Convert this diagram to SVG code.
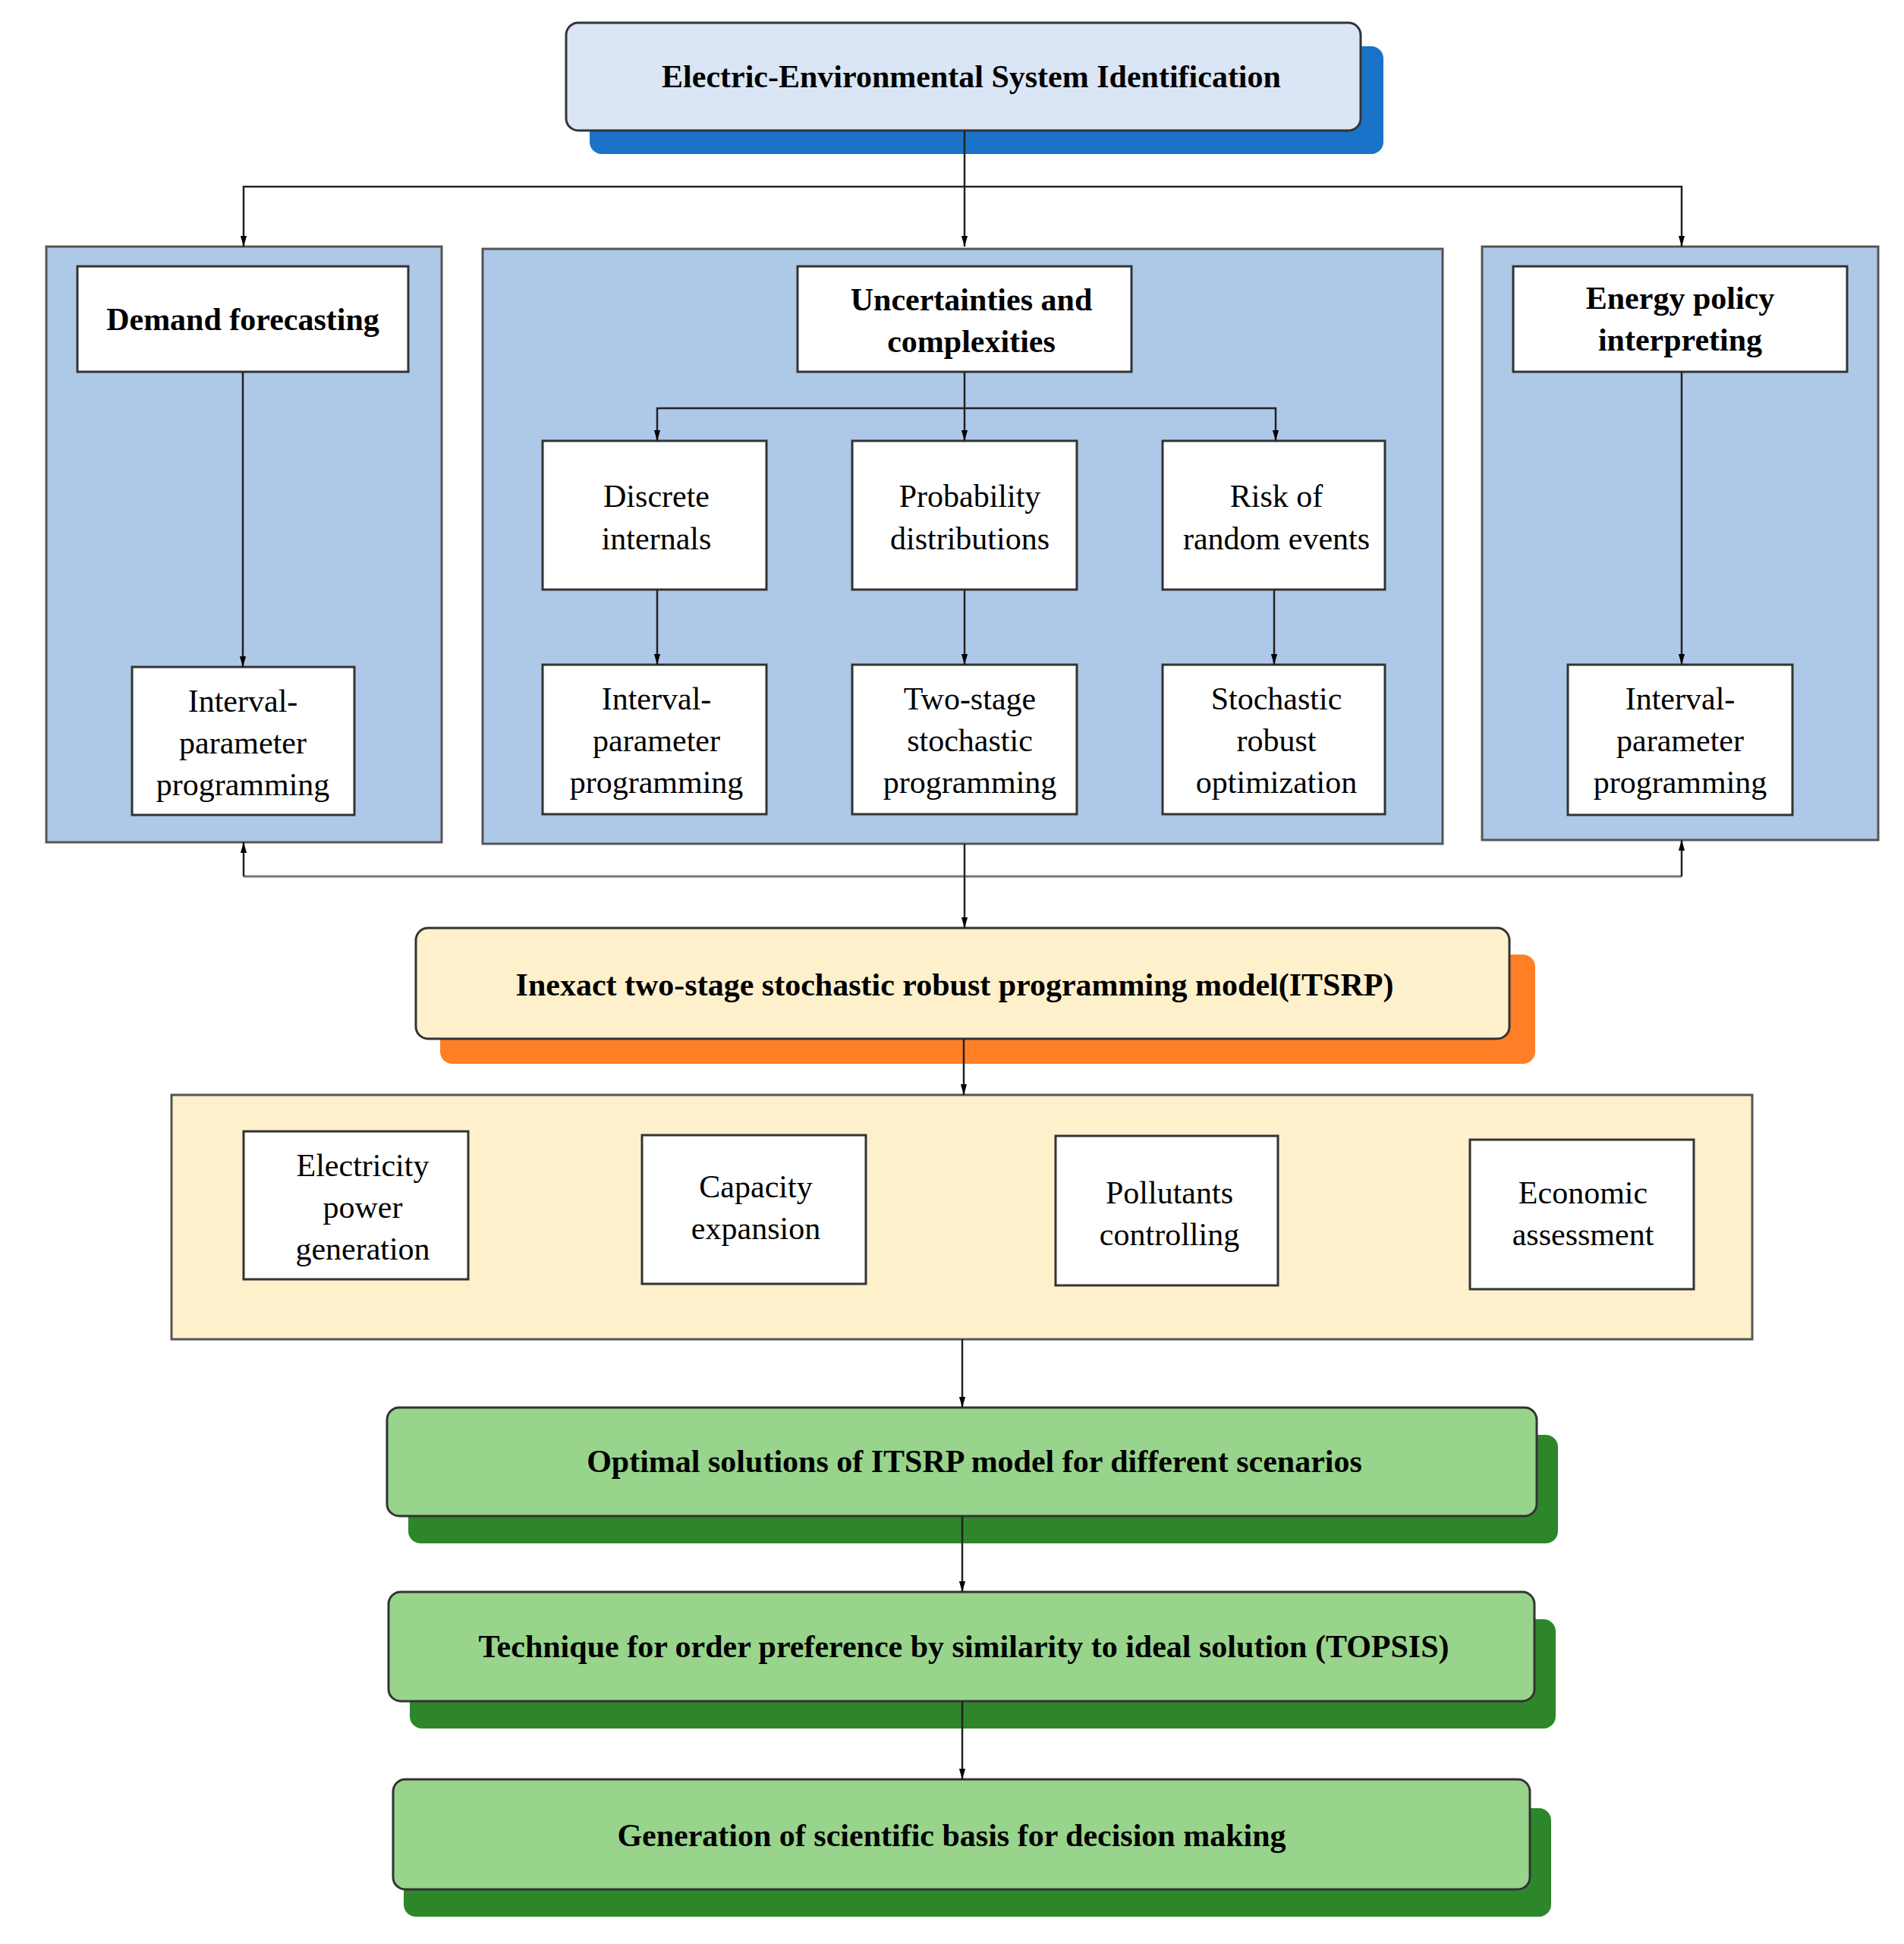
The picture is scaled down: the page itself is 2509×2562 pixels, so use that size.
<svg xmlns="http://www.w3.org/2000/svg" width="2509" height="2562" viewBox="0 0 2509 2562">
<style>
.b{font-family:"Liberation Serif",serif;font-weight:bold;font-size:42px;fill:#000;text-anchor:middle}
.r{font-family:"Liberation Serif",serif;font-size:42px;fill:#000;text-anchor:middle}
.w{fill:#fff;stroke:#333;stroke-width:3}
.p{fill:#aec8e8;stroke:#555;stroke-width:3}
.l{fill:none;stroke:#222;stroke-width:2.5}
.lg{fill:none;stroke:#777;stroke-width:3}
</style>
<defs><marker id="a" markerWidth="12" markerHeight="14" refX="6" refY="13" orient="auto-start-reverse" markerUnits="userSpaceOnUse" viewBox="0 0 12 14"><path d="M0,0 L12,0 L6,14 Z" transform="rotate(0)" fill="#000"/></marker>
<marker id="d" viewBox="0 0 14 24" refX="24" refY="7" markerWidth="24" markerHeight="14" orient="auto" markerUnits="userSpaceOnUse"><path d="M0,0 L24,7 L0,14Z" fill="#000"/></marker></defs>
<g id="top"><rect x="777" y="61" width="1046" height="142" rx="16" fill="#1a73c8"/><rect x="746" y="30" width="1047" height="142" rx="16" fill="#dae6f5" stroke="#333" stroke-width="3"/><text class="b" x="1280" y="115">Electric-Environmental System Identification</text></g>
<g id="panelL"><rect class="p" x="61" y="325" width="521" height="785"/></g>
<g id="panelC"><rect class="p" x="636" y="328" width="1265" height="784"/></g>
<g id="panelR"><rect class="p" x="1953" y="325" width="522" height="782"/></g>
<g id="demand"><rect class="w" x="102" y="351" width="436" height="139"/><text class="b" x="320" y="435">Demand forecasting</text></g>
<g id="unc"><rect class="w" x="1051" y="351" width="440" height="139"/><text class="b" x="1280" y="409">Uncertainties and</text><text class="b" x="1280" y="464">complexities</text></g>
<g id="energy"><rect class="w" x="1994" y="351" width="440" height="139"/><text class="b" x="2214" y="407">Energy policy</text><text class="b" x="2214" y="462">interpreting</text></g>
<g id="ipL"><rect class="w" x="174" y="879" width="293" height="195"/><text class="r" x="320" y="938">Interval-</text><text class="r" x="320" y="993">parameter</text><text class="r" x="320" y="1048">programming</text></g>
<g id="disc"><rect class="w" x="715" y="581" width="295" height="196"/><text class="r" x="865" y="668">Discrete</text><text class="r" x="865" y="724">internals</text></g>
<g id="prob"><rect class="w" x="1123" y="581" width="296" height="196"/><text class="r" x="1278" y="668">Probability</text><text class="r" x="1278" y="724">distributions</text></g>
<g id="risk"><rect class="w" x="1532" y="581" width="293" height="196"/><text class="r" x="1682" y="668">Risk of</text><text class="r" x="1682" y="724">random events</text></g>
<g id="ipC"><rect class="w" x="715" y="876" width="295" height="197"/><text class="r" x="865" y="935">Interval-</text><text class="r" x="865" y="990">parameter</text><text class="r" x="865" y="1045">programming</text></g>
<g id="tss"><rect class="w" x="1123" y="876" width="296" height="197"/><text class="r" x="1278" y="935">Two-stage</text><text class="r" x="1278" y="990">stochastic</text><text class="r" x="1278" y="1045">programming</text></g>
<g id="sro"><rect class="w" x="1532" y="876" width="293" height="197"/><text class="r" x="1682" y="935">Stochastic</text><text class="r" x="1682" y="990">robust</text><text class="r" x="1682" y="1045">optimization</text></g>
<g id="ipR"><rect class="w" x="2066" y="876" width="296" height="198"/><text class="r" x="2214" y="935">Interval-</text><text class="r" x="2214" y="990">parameter</text><text class="r" x="2214" y="1045">programming</text></g>
<g id="itsrp"><rect x="580" y="1258" width="1443" height="144" rx="16" fill="#ff7f27"/><rect x="548" y="1223" width="1441" height="146" rx="16" fill="#fff0cc" stroke="#333" stroke-width="3"/><text class="b" x="1258" y="1312">Inexact two-stage stochastic robust programming model(ITSRP)</text></g>
<g id="outPanel"><rect x="226" y="1443" width="2083" height="322" fill="#fff0cc" stroke="#555" stroke-width="3"/></g>
<g id="elec"><rect class="w" x="321" y="1491" width="296" height="195"/><text class="r" x="478" y="1550">Electricity</text><text class="r" x="478" y="1605">power</text><text class="r" x="478" y="1660">generation</text></g>
<g id="cap"><rect class="w" x="846" y="1496" width="295" height="196"/><text class="r" x="996" y="1578">Capacity</text><text class="r" x="996" y="1633">expansion</text></g>
<g id="poll"><rect class="w" x="1391" y="1497" width="293" height="197"/><text class="r" x="1541" y="1586">Pollutants</text><text class="r" x="1541" y="1641">controlling</text></g>
<g id="econ"><rect class="w" x="1937" y="1502" width="295" height="197"/><text class="r" x="2086" y="1586">Economic</text><text class="r" x="2086" y="1641">assessment</text></g>
<g id="g1"><rect x="538" y="1891" width="1515" height="143" rx="16" fill="#2e862a"/><rect x="510" y="1855" width="1515" height="143" rx="16" fill="#98d48c" stroke="#333" stroke-width="3"/><text class="b" x="1284" y="1940">Optimal solutions of ITSRP model for different scenarios</text></g>
<g id="g2"><rect x="540" y="2134" width="1510" height="144" rx="16" fill="#2e862a"/><rect x="512" y="2098" width="1510" height="144" rx="16" fill="#98d48c" stroke="#333" stroke-width="3"/><text class="b" x="1270" y="2184">Technique for order preference by similarity to ideal solution (TOPSIS)</text></g>
<g id="g3"><rect x="532" y="2383" width="1512" height="143" rx="16" fill="#2e862a"/><rect x="518" y="2345" width="1498" height="145" rx="16" fill="#98d48c" stroke="#333" stroke-width="3"/><text class="b" x="1254" y="2433">Generation of scientific basis for decision making</text></g>
<g id="connectors">
<path class="l" d="M1271,172 V325" marker-end="url(#d)"/>
<path class="l" d="M1271,246 H321 V325" marker-end="url(#d)"/>
<path class="l" d="M1271,246 H2216 V325" marker-end="url(#d)"/>
<path class="l" d="M320,490 V879" marker-end="url(#d)"/>
<path class="l" d="M2216,490 V876" marker-end="url(#d)"/>
<path class="l" d="M1271,490 V581" marker-end="url(#d)"/>
<path class="l" d="M1271,538 H866 V581" marker-end="url(#d)"/>
<path class="l" d="M1271,538 H1681 V581" marker-end="url(#d)"/>
<path class="l" d="M866,777 V876" marker-end="url(#d)"/>
<path class="l" d="M1271,777 V876" marker-end="url(#d)"/>
<path class="l" d="M1679,777 V876" marker-end="url(#d)"/>
<path class="lg" d="M321,1155 H2216"/>
<path class="l" d="M321,1155 V1110" marker-end="url(#d)"/>
<path class="l" d="M2216,1155 V1107" marker-end="url(#d)"/>
<path class="l" d="M1271,1112 V1223" marker-end="url(#d)"/>
<path class="l" d="M1270,1369 V1443" marker-end="url(#d)"/>
<path class="l" d="M1268,1765 V1855" marker-end="url(#d)"/>
<path class="l" d="M1268,1998 V2098" marker-end="url(#d)"/>
<path class="l" d="M1268,2242 V2345" marker-end="url(#d)"/>
</g>
</svg>
